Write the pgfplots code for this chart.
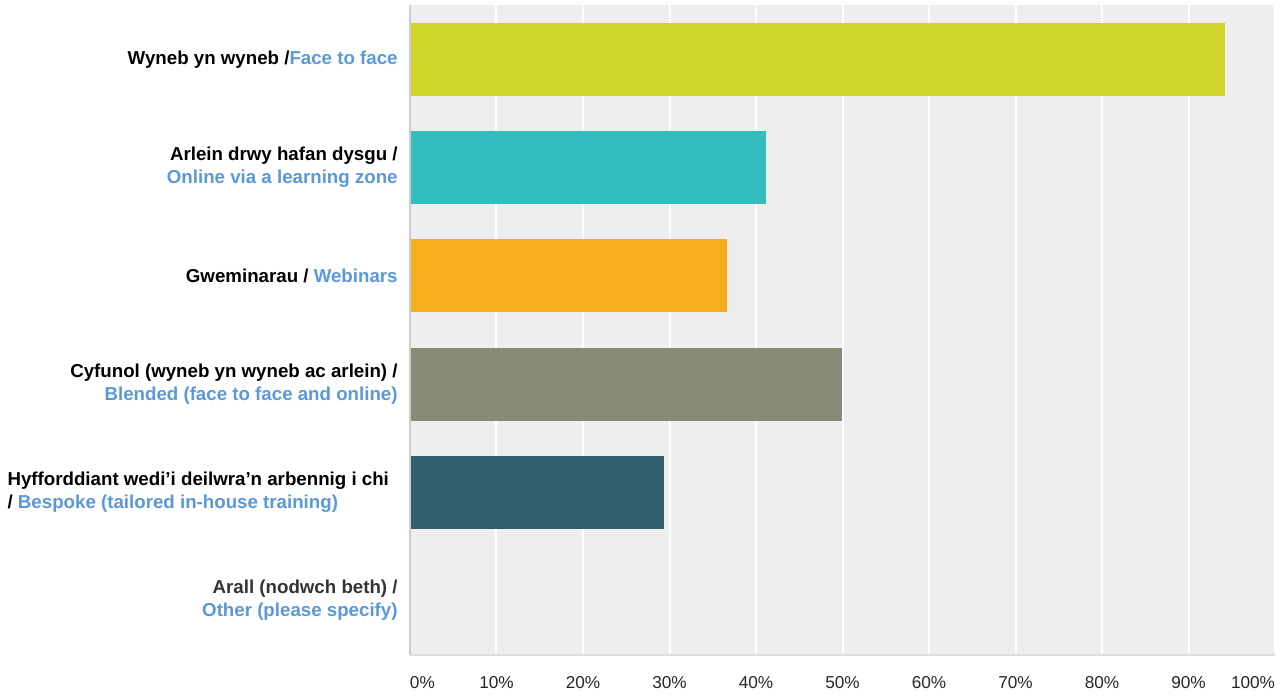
\documentclass[border=0pt]{standalone}
\usepackage{fontspec}
\setmainfont{Liberation Sans}
\usepackage{pgfplots}
\pgfplotsset{compat=1.18}
\usetikzlibrary{calc}

\definecolor{bgc}{HTML}{EEEEEE}
\definecolor{lblue}{HTML}{5A98DA}
\definecolor{c1}{HTML}{D0D52B}
\definecolor{c2}{HTML}{33BDBF}
\definecolor{c3}{HTML}{F5AF1E}
\definecolor{c4}{HTML}{888A77}
\definecolor{c5}{HTML}{2F5F6D}

\newcommand{\rl}[2]{\begin{tabular}{@{}r@{}}#1\\#2\end{tabular}}

\begin{document}
\begin{tikzpicture}
\begin{axis}[
    xbar,
    scale only axis,
    width=432.5pt,
    height=325pt,
    xmin=0, xmax=100,
    ymin=-0.5, ymax=5.5,
    y dir=reverse,
    bar width=36.5pt,
    axis background/.style={fill=bgc},
    axis line style={draw=none},
    xmajorgrids=true,
    grid style={white, line width=1pt},
    xtick={0,10,...,100},
    xticklabels={\makebox[0pt][l]{0\%},10\%,20\%,30\%,40\%,50\%,60\%,70\%,80\%,90\%,\makebox[0pt][r]{100\%}},
    ytick={0,1,2,3,4,5},
    yticklabels={
        {Wyneb yn wyneb /\textcolor{lblue}{Face to face}},
        {\rl{Arlein drwy hafan dysgu /}{\textcolor{lblue}{Online via a learning zone}}},
        {Gweminarau / \textcolor{lblue}{Webinars}},
        {\rl{Cyfunol (wyneb yn wyneb ac arlein) /}{\textcolor{lblue}{Blended (face to face and online)}}},
        {\begin{tabular}{@{}l@{}}\makebox[195pt][l]{Hyfforddiant wedi’i deilwra’n arbennig i chi}\\/ \textcolor{lblue}{Bespoke (tailored in-house training)}\end{tabular}},
        {\rl{\textcolor{black!80}{Arall (nodwch beth) /}}{\textcolor{lblue}{Other (please specify)}}}
    },
    major tick length=0pt,
    yticklabel style={font=\fontsize{9.35}{11.5}\selectfont\bfseries, inner sep=0pt, xshift=-6pt},
    xticklabel style={font=\fontsize{8.6}{10}\selectfont, text=black!85, inner sep=0pt, yshift=-10.5pt},
    clip=false,
]
\addplot[fill=c1, draw=none, bar shift=0pt] coordinates {(94.2,0)};
\addplot[fill=c2, draw=none, bar shift=0pt] coordinates {(41.1,1)};
\addplot[fill=c3, draw=none, bar shift=0pt] coordinates {(36.7,2)};
\addplot[fill=c4, draw=none, bar shift=0pt] coordinates {(49.9,3)};
\addplot[fill=c5, draw=none, bar shift=0pt] coordinates {(29.4,4)};
\addplot[fill=c1, draw=none, bar shift=0pt] coordinates {(0,5)};
\draw[color=black!13, line width=1pt] (axis cs:0,5.5) -- (axis cs:100,5.5);
\draw[color=black!20, line width=1pt] (axis cs:0,-0.5) -- (axis cs:0,5.5);
\end{axis}
\pgfresetboundingbox
\path[use as bounding box] ($(current axis.south west)+(-205pt,-20pt)$) rectangle ($(current axis.north east)+(4pt,2.5pt)$);
\end{tikzpicture}
\end{document}
